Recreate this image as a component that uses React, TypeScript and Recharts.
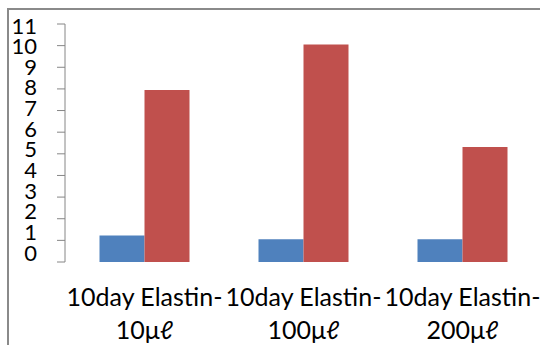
import React from 'react';
import { BarChart, Bar, XAxis, YAxis } from 'recharts';

const categories = ['10day Elastin-|10μℓ', '10day Elastin-|100μℓ', '10day Elastin-|200μℓ'];
const blueValues = [1.22, 1.05, 1.05];
const redValues = [7.95, 10.05, 5.32];
const yTicks = [0, 1, 2, 3, 4, 5, 6, 7, 8, 9, 10, 11];
const edgeTicks = [0, 1, 2, 3];

const data = categories.map((name, i) => ({ name, blue: blueValues[i], red: redValues[i] }));

const FONT = 'Lato, "Liberation Sans", sans-serif';
const AXIS = '#868686';

const YTick = (props: any) => {
  const { x, y, payload } = props;
  const v = payload.value as number;
  // excel squeezes the labels a bit, so they drift upward toward zero
  const shift = 1.5 - (11 - v) * 1.0;
  return (
    <text x={x} y={y + shift + 8} textAnchor="end" fontSize={22} fontFamily={FONT} fill="#000">
      {v}
    </text>
  );
};

const XTick = (props: any) => {
  const { x, y, payload } = props;
  const [line1, line2] = String(payload.value).split('|');
  return (
    <g>
      <text x={x} y={y + 44} textAnchor="middle" fontSize={25} fontFamily={FONT} fill="#000">
        {line1}
      </text>
      <text x={x} y={y + 77} textAnchor="middle" fontSize={25} fontFamily={FONT} fill="#000">
        {line2}
      </text>
    </g>
  );
};

export default function App() {
  return (
    <div style={{ position: 'absolute', left: 0, top: 0, width: 540, height: 345, overflow: 'hidden', background: '#fff' }}>
      <div
        style={{
          position: 'absolute',
          left: 7,
          top: 8,
          width: 600,
          height: 400,
          borderLeft: '2px solid #8a8a8a',
          borderTop: '2px solid #8a8a8a',
        }}
      />
      <div style={{ position: 'absolute', left: 0, top: 0 }}>
        <BarChart
          width={560}
          height={345}
          data={data}
          margin={{ top: 24, right: 18, bottom: 0, left: 0 }}
          barCategoryGap="21.7%"
          barGap={0}
        >
          <XAxis
            xAxisId="edges"
            type="number"
            domain={[0, 3]}
            ticks={edgeTicks}
            allowDataOverflow
            height={0}
            tickSize={8}
            tickLine={{ stroke: AXIS }}
            axisLine={{ stroke: AXIS }}
            tick={() => <g />}
          />
          <XAxis
            dataKey="name"
            height={83}
            axisLine={false}
            tickLine={false}
            tickSize={0}
            tickMargin={0}
            interval={0}
            tick={<XTick />}
          />
          <YAxis
            width={65}
            domain={[0, 11]}
            ticks={yTicks}
            interval={0}
            tickSize={8}
            tickMargin={20}
            tickLine={{ stroke: AXIS }}
            axisLine={{ stroke: AXIS }}
            tick={<YTick />}
          />
          <Bar dataKey="blue" fill="#4F81BD" isAnimationActive={false} />
          <Bar dataKey="red" fill="#C0504D" isAnimationActive={false} />
        </BarChart>
      </div>
    </div>
  );
}
